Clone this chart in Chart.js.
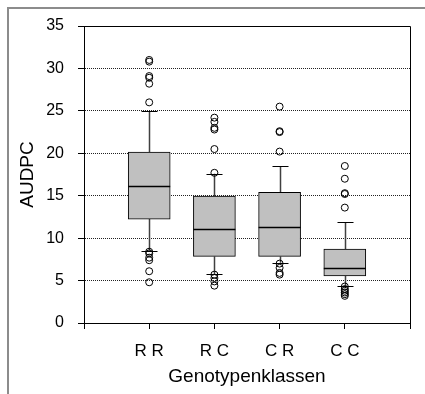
<!DOCTYPE html>
<html>
<head>
<meta charset="utf-8">
<script src="https://cdn.jsdelivr.net/npm/chart.js@4.4.1/dist/chart.umd.min.js"></script>
<style>
  html, body { margin: 0; padding: 0; background: #fff; }
  canvas { display: block; }
</style>
</head>
<body>
<canvas id="boxChart" width="425" height="394"></canvas>
<script>
// box plot values
const categories = ["R R", "R C", "C R", "C C"];
const q1 = [12.25, 7.85, 7.85, 5.55];
const median = [16.1, 11.1, 11.3, 6.5];
const q3 = [20.15, 14.95, 15.4, 8.7];
const whiskerLow = [8.5, 5.75, 7.1, 4.4];
const whiskerHigh = [24.95, 17.6, 18.45, 11.85];
const outliersRR = [31.0, 30.8, 29.1, 28.9, 28.2, 26.0, 8.4, 8.2, 7.7, 7.4, 6.1, 4.8];
const outliersRC = [24.2, 23.7, 23.0, 22.8, 20.5, 17.7, 5.7, 5.3, 4.9, 4.4];
const outliersCR = [25.5, 22.6, 22.5, 20.2, 7.0, 6.5, 5.9, 5.7];
const outliersCC = [18.5, 17.0, 15.3, 15.2, 13.6, 4.3, 4.0, 3.8, 3.6, 3.4, 3.2];
const outliers = [outliersRR, outliersRC, outliersCR, outliersCC];

const FONT = "'Liberation Sans', Arial, sans-serif";

let outlierPoints = [];
outliers.forEach((list, i) => {
  list.forEach((v) => outlierPoints.push({ x: i + 1, y: v }));
});

let boxData = categories.map((c, i) => ({ x: i + 1, y: [q1[i], q3[i]] }));

// whiskers, caps, medians and frames
const boxParts = {
  id: "boxParts",
  beforeDatasetsDraw(chart) {
    const { ctx } = chart;
    const x = chart.scales.x;
    const y = chart.scales.y;
    ctx.save();
    categories.forEach((c, i) => {
      const px = Math.round(x.getPixelForValue(i + 1)) + 0.5;
      ctx.strokeStyle = "#404040";
      ctx.lineWidth = 1.5;
      ctx.beginPath();
      ctx.moveTo(px, y.getPixelForValue(q3[i]));
      ctx.lineTo(px, y.getPixelForValue(whiskerHigh[i]));
      ctx.moveTo(px, y.getPixelForValue(q1[i]));
      ctx.lineTo(px, y.getPixelForValue(whiskerLow[i]));
      ctx.stroke();
      ctx.strokeStyle = "#000";
      ctx.lineWidth = 1.2;
      ctx.beginPath();
      [whiskerHigh[i], whiskerLow[i]].forEach((w) => {
        const py = Math.round(y.getPixelForValue(w)) + 0.5;
        ctx.moveTo(px - 8, py);
        ctx.lineTo(px + 8, py);
      });
      ctx.stroke();
    });
    ctx.restore();
  },
  afterDatasetDraw(chart, args) {
    if (args.index !== 1) return;
    const { ctx } = chart;
    const y = chart.scales.y;
    const bars = chart.getDatasetMeta(1).data;
    ctx.save();
    ctx.strokeStyle = "#000";
    ctx.lineWidth = 1.5;
    ctx.beginPath();
    bars.forEach((bar, i) => {
      const py = Math.round(y.getPixelForValue(median[i])) + 0.5;
      ctx.moveTo(bar.x - bar.width / 2, py);
      ctx.lineTo(bar.x + bar.width / 2, py);
    });
    ctx.stroke();
    ctx.restore();
  },
  afterDraw(chart) {
    const { ctx, chartArea: a } = chart;
    ctx.save();
    ctx.strokeStyle = "#000";
    ctx.lineWidth = 1;
    ctx.beginPath();
    ctx.moveTo(a.left, a.top + 0.5);
    ctx.lineTo(a.right + 0.5, a.top + 0.5);
    ctx.lineTo(a.right + 0.5, a.bottom);
    ctx.stroke();
    // outer frame
    ctx.strokeStyle = "#8c8c8c";
    ctx.lineWidth = 2;
    ctx.beginPath();
    ctx.moveTo(8, chart.height);
    ctx.lineTo(8, 8);
    ctx.lineTo(chart.width, 8);
    ctx.stroke();
    ctx.restore();
  },
};

const ctx = document.getElementById("boxChart");

let chart = new Chart(ctx, {
  type: "scatter",
  data: {
    datasets: [
      {
        type: "scatter",
        data: outlierPoints,
        pointStyle: "circle",
        pointRadius: 3.5,
        pointBorderWidth: 1,
        pointBackgroundColor: "rgba(0,0,0,0)",
        pointBorderColor: "#000",
      },
      {
        type: "bar",
        data: boxData,
        backgroundColor: "#c0c0c0",
        borderColor: "#000",
        borderWidth: 1,
        borderSkipped: false,
        barThickness: 42,
      },
    ],
  },
  options: {
    responsive: false,
    animation: false,
    layout: {
      padding: { left: 0, top: 26, right: 15, bottom: 0 },
    },
    plugins: {
      legend: { display: false },
      tooltip: { enabled: false },
    },
    scales: {
      x: {
        type: "linear",
        min: 0,
        max: 5,
        offset: false,
        afterFit(scale) {
          scale.height = 71;
        },
        grid: {
          offset: false,
          drawOnChartArea: false,
          tickLength: 6,
          tickColor: "#000",
        },
        border: { color: "#000", width: 1 },
        ticks: {
          stepSize: 1,
          padding: 12,
          color: "#000",
          font: { family: FONT, size: 17 },
          callback: (v) => categories[v - 1] || "",
        },
        title: {
          display: true,
          text: "Genotypenklassen",
          color: "#000",
          font: { family: FONT, size: 19 },
          padding: { top: 0, bottom: 6 },
        },
      },
      y: {
        type: "linear",
        min: 0,
        max: 35,
        afterFit(scale) {
          scale.width = 84;
        },
        grid: {
          tickLength: 6,
          tickColor: "#000",
          color: (c) =>
            c.tick && (c.tick.value === 0 || c.tick.value === 35)
              ? "rgba(0,0,0,0)"
              : "#222",
        },
        border: { color: "#000", width: 1, dash: [1, 1] },
        ticks: {
          stepSize: 5,
          padding: 14,
          color: "#000",
          font: { family: FONT, size: 16 },
        },
        title: {
          display: true,
          text: "AUDPC",
          color: "#000",
          font: { family: FONT, size: 19 },
          padding: { top: 16, bottom: 0 },
        },
      },
    },
  },
  plugins: [boxParts],
});
</script>
</body>
</html>
